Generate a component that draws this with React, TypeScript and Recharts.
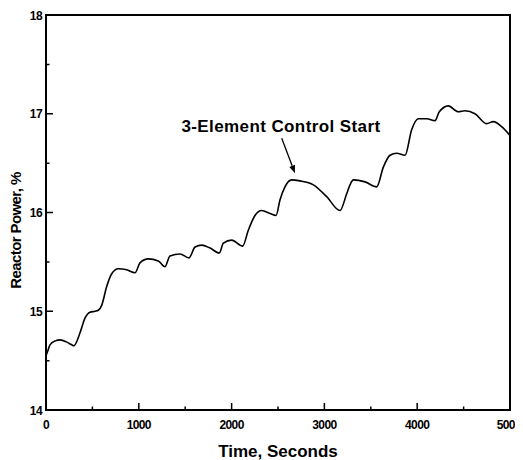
import React from 'react';
import { LineChart, Line, XAxis, YAxis, ReferenceLine } from 'recharts';

// time in seconds and reactor power in %
const times = [
  0, 20, 43, 100, 151, 220, 277, 300, 366, 420, 474, 530, 564, 600, 654, 708, 780, 869, 959, 1013,
  1103, 1210, 1282, 1336, 1444, 1540, 1606, 1678, 1767, 1868, 1911, 2001, 2119, 2180, 2252, 2324,
  2414, 2479, 2522, 2575, 2648, 2737, 2881, 3025, 3168, 3240, 3276, 3312, 3438, 3564, 3635, 3707,
  3779, 3869, 3941, 4012, 4102, 4192, 4238, 4335, 4443, 4515, 4623, 4749, 4820, 4910, 5000,
];
const power = [
  14.55, 14.6, 14.66, 14.7, 14.71, 14.69, 14.66, 14.65, 14.78, 14.93, 14.99, 15.0, 15.01, 15.06,
  15.25, 15.38, 15.43, 15.42, 15.39, 15.49, 15.53, 15.51, 15.45, 15.56, 15.58, 15.54, 15.65, 15.67,
  15.64, 15.59, 15.69, 15.72, 15.66, 15.82, 15.97, 16.02, 15.99, 15.97, 16.13, 16.26, 16.33, 16.32,
  16.28, 16.16, 16.02, 16.19, 16.28, 16.33, 16.31, 16.26, 16.46, 16.58, 16.6, 16.58, 16.84, 16.95,
  16.95, 16.93, 17.02, 17.08, 17.02, 17.03, 17.0, 16.9, 16.92, 16.87, 16.78,
];

const xTicks = [0, 500, 1000, 1500, 2000, 2500, 3000, 3500, 4000, 4500, 5000];
const yTicks = [14, 14.5, 15, 15.5, 16, 16.5, 17, 17.5, 18];
const xDomain = [0, 5000];
const yDomain = [14, 18];

const note = '3-Element Control Start';
const noteAt = { t: 2532, p: 16.876 };
const arrowFrom = { t: 2540, p: 16.751 };
const arrowTo = { t: 2683, p: 16.397 };

const data = times.map((t, i) => ({ t, p: power[i] }));

const font = '"Liberation Sans", Arial, sans-serif';

const W = 515;
const H = 452;
const margin = { top: 7, right: 13, left: 0, bottom: 0 };
const yAxisW = 38;
const xAxisH = 50;

const XTick = (props: any) => {
  const { x, y, payload } = props;
  if (payload.value % 1000 !== 0) return <g />;
  const last = payload.value === xDomain[1];
  return (
    <text
      x={last ? x + 11 : x}
      y={y + 19}
      textAnchor={last ? 'end' : 'middle'}
      fontSize={12}
      fontWeight="bold"
      fontFamily={font}
      letterSpacing={-0.6}
      fill="#000"
    >
      {payload.value}
    </text>
  );
};

const YTick = (props: any) => {
  const { x, y, payload } = props;
  if (payload.value % 1 !== 0) return <g />;
  return (
    <text x={x - 4} y={y + 4.5} textAnchor="end" fontSize={12} fontWeight="bold" fontFamily={font} letterSpacing={-0.6} fill="#000">
      {payload.value}
    </text>
  );
};

const XMark = (props: any) => {
  const { x1, y1, major } = props;
  return <line x1={x1} y1={y1} x2={x1 + 0.01} y2={y1 - (major ? 7 : 3.5)} stroke="#000" strokeWidth={1.5} />;
};

const YMark = (props: any) => {
  const { x1, y1, major } = props;
  return <line x1={x1} y1={y1} x2={x1 + (major ? 7 : 3.5)} y2={y1 + 0.01} stroke="#000" strokeWidth={1.5} />;
};

const Arrow = (props: any) => {
  const { x1, y1, x2, y2 } = props;
  const a = Math.atan2(y2 - y1, x2 - x1);
  const len = 8;
  const w = 3;
  const bx = x2 - len * Math.cos(a);
  const by = y2 - len * Math.sin(a);
  const px = -Math.sin(a) * w;
  const py = Math.cos(a) * w;
  return (
    <g>
      <line x1={x1} y1={y1} x2={bx} y2={by} stroke="#000" strokeWidth={1.3} />
      <polygon points={`${x2},${y2} ${bx + px},${by + py} ${bx - px},${by - py}`} fill="#000" />
    </g>
  );
};

const Note = (props: any) => {
  const { x1, y1 } = props;
  return (
    <text x={x1} y={y1} dy={6} textAnchor="middle" fontSize={17} fontWeight="bold" fontFamily={font} letterSpacing={0.4} fill="#000">
      {note}
    </text>
  );
};

export default function App() {
  const plotLeft = margin.left + yAxisW;
  const plotTop = margin.top;
  const plotW = W - plotLeft - margin.right;
  const plotH = H - plotTop - margin.bottom - xAxisH;
  return (
    <div style={{ position: 'relative', width: W, height: H }}>
      <LineChart width={W} height={H} data={data} margin={margin}>
        <XAxis
          dataKey="t"
          type="number"
          domain={xDomain}
          ticks={xTicks}
          interval={0}
          height={xAxisH}
          tickSize={0}
          tickMargin={0}
          tickLine={false}
          axisLine={false}
          tick={<XTick />}
          label={{
            value: 'Time, Seconds',
            position: 'insideBottom',
            offset: 3,
            style: { fontFamily: font, fontWeight: 'bold', fontSize: 17, fill: '#000' },
          }}
        />
        <YAxis
          type="number"
          domain={yDomain}
          ticks={yTicks}
          interval={0}
          width={yAxisW}
          tickSize={0}
          tickMargin={0}
          tickLine={false}
          axisLine={false}
          tick={<YTick />}
          label={{
            value: 'Reactor Power, %',
            angle: -90,
            position: 'insideLeft',
            offset: 0,
            dy: 18,
            dx: 8,
            style: { fontFamily: font, fontWeight: 'bold', fontSize: 15, letterSpacing: -0.6, fill: '#000', textAnchor: 'middle' },
          }}
        />
        {xTicks.map((t) => (
          <ReferenceLine
            key={'xm' + t}
            segment={[
              { x: t, y: yDomain[0] },
              { x: t, y: yDomain[0] },
            ]}
            shape={<XMark major={t % 1000 === 0} />}
          />
        ))}
        {yTicks.map((v) => (
          <ReferenceLine
            key={'ym' + v}
            segment={[
              { x: xDomain[0], y: v },
              { x: xDomain[0], y: v },
            ]}
            shape={<YMark major={v % 1 === 0} />}
          />
        ))}
        <ReferenceLine
          segment={[
            { x: arrowFrom.t, y: arrowFrom.p },
            { x: arrowTo.t, y: arrowTo.p },
          ]}
          shape={<Arrow />}
        />
        <ReferenceLine
          segment={[
            { x: noteAt.t, y: noteAt.p },
            { x: noteAt.t, y: noteAt.p },
          ]}
          shape={<Note />}
        />
        <Line type="monotone" dataKey="p" stroke="#000" strokeWidth={1.6} dot={false} isAnimationActive={false} />
      </LineChart>
      {/* plot frame */}
      <div
        style={{
          position: 'absolute',
          left: plotLeft - 1,
          top: plotTop - 1,
          width: plotW + 2,
          height: plotH + 2,
          border: '2px solid #000',
          boxSizing: 'border-box',
          pointerEvents: 'none',
        }}
      />
    </div>
  );
}
